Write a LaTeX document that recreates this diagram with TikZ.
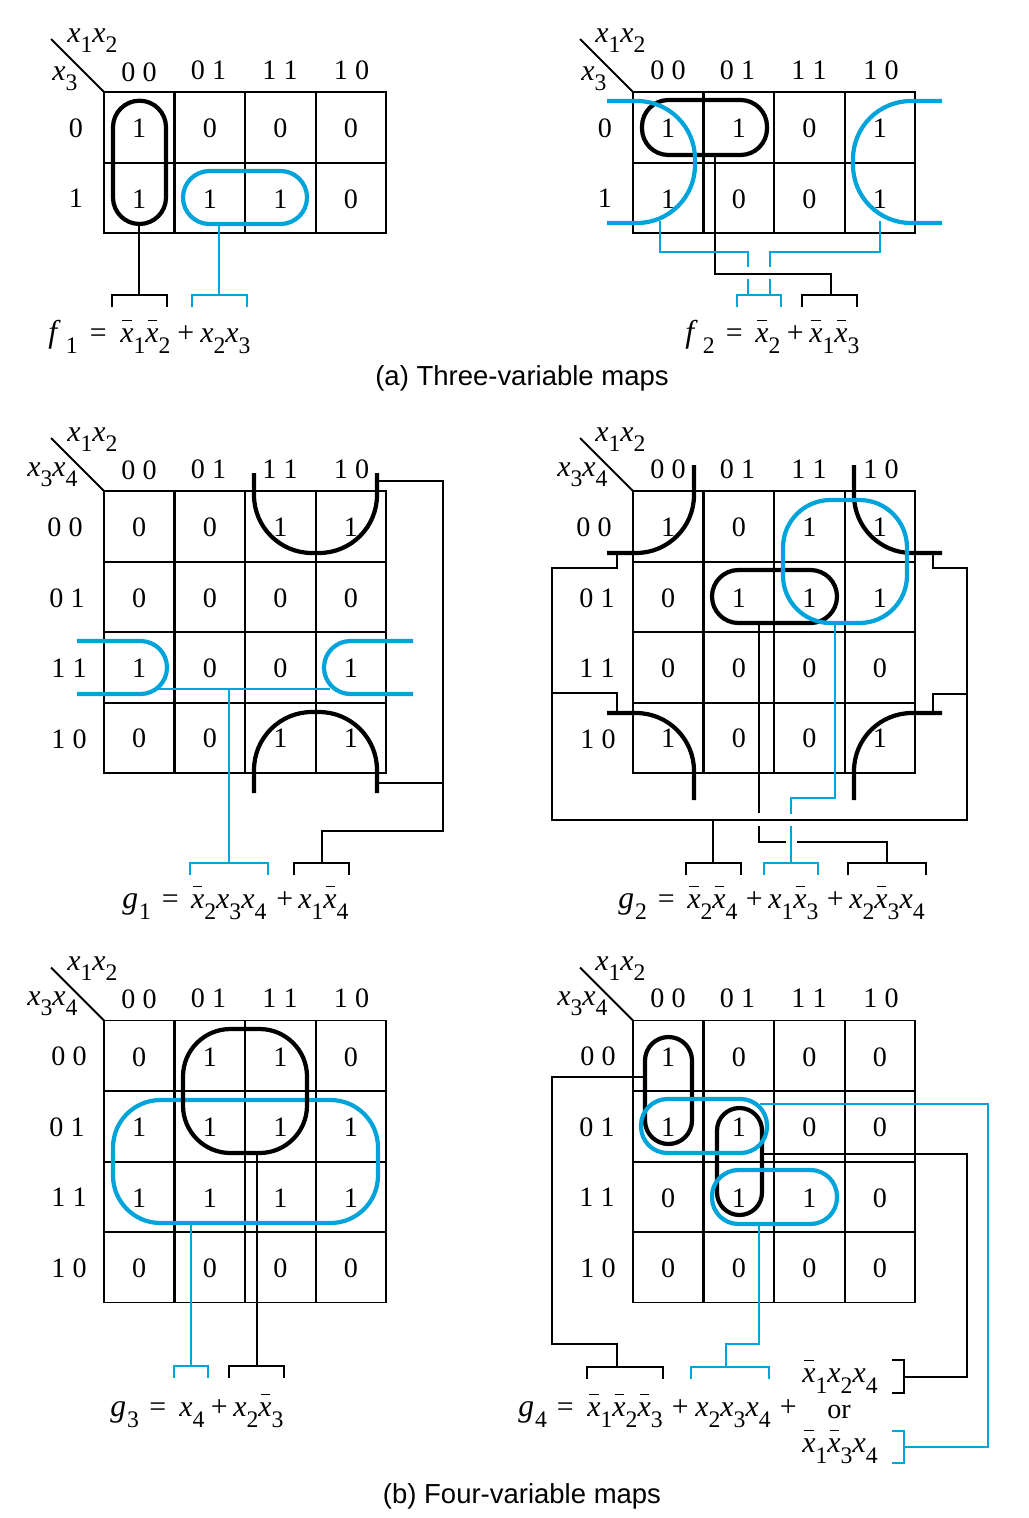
\documentclass[tikz,border=0pt]{standalone}
\usepackage{fontspec}
\setmainfont{Liberation Serif}
\newfontfamily\capfont{Liberation Sans}
\definecolor{kblue}{RGB}{0,163,218}
\newcommand\xit{{\fontsize{17}{18}\selectfont\itshape x}}
\newcommand\sbs[1]{\raisebox{-6pt}{\fontsize{13.5}{14}\selectfont #1}}
\newcommand\xs[1]{\xit\sbs{#1}}
\newcommand\xb[1]{\rlap{\kern1.2pt\raisebox{12pt}{\rule{5.2pt}{0.75pt}}}\xs{#1}}
\newcommand\fn[1]{{\fontsize{18}{18}\selectfont\itshape f}\kern5pt\sbs{#1}}
\newcommand\gn[1]{{\fontsize{18}{18}\selectfont\itshape g}\kern0.6pt\sbs{#1}}
\tikzset{
  gthin/.style={line width=1.1pt,black},
  gthick/.style={line width=1.4pt,black},
  loopk/.style={line width=2.4pt,black},
  loopb/.style={line width=2.4pt,kblue},
  wirek/.style={line width=1.05pt,black},
  wireb/.style={line width=1.05pt,kblue},
  dig/.style={inner sep=0pt,font=\fontsize{16}{18}\selectfont},
  eqt/.style={inner sep=0pt,anchor=base west,font=\fontsize{17}{18}\selectfont},
  captext/.style={inner sep=0pt,font=\capfont\fontsize{15.65}{18}\selectfont},
}
% name, x0, y0, number of rows, values
\newcommand\kgrid[5]{%
  \coordinate (#1-o) at (#2,#3);
  \draw[gthin] (#2,#3) rectangle ({#2+282.3},{#3+70.5*#4});
  \foreach \r in {1,...,#4}{
    \ifnum\r<#4 \draw[gthin] ({#2},{round(#3+70.5*\r)}) -- ({#2+282.3},{round(#3+70.5*\r)});\fi}
  \foreach \c in {1,2,3}{
    \draw[gthick] ({#2+70.6*\c},#3) -- ({#2+70.6*\c},{#3+70.5*#4});}
  \foreach \v [count=\i from 0] in {#5}{
    \pgfmathtruncatemacro\cc{mod(\i,4)}
    \pgfmathtruncatemacro\rr{int(\i/4)}
    \node[dig] (#1-\rr-\cc) at ({#2+35.2+70.6*\cc},{#3+36.5+70.4*\rr}) {\v};
  }
  \coordinate (#1-d) at ({#2-53},{#3-53});
  \draw[gthin] (#1-d) -- (#1-o);
}
% name, colour style, x1, x2, y
\newcommand\brk[5]{%
  \coordinate (#1-l) at (#3,#5);
  \coordinate (#1-r) at (#4,#5);
  \draw[#2] ($(#1-l)+(0,12)$) -- (#1-l) -- (#1-r) -- ($(#1-r)+(0,12)$);
}
\newcommand\C[3]{\coordinate (#1) at (#2,#3);}
\newcommand\T[4]{\node[eqt] (#1) at (#2,#3) {#4};}
\newcommand\D[4]{\node[dig] (#1) at (#2,#3) {#4};}
\usetikzlibrary{calc}
\begin{document}
\begin{tikzpicture}[x=0.02cm,y=-0.02cm]
\useasboundingbox (0,0) rectangle (1028,1518);
% ---------- grids
\kgrid{a}{104}{92}{2}{1,0,0,0,1,1,1,0}
\kgrid{c}{633}{92}{2}{1,1,0,1,1,0,0,1}
\kgrid{e}{104}{491}{4}{0,0,1,1,0,0,0,0,1,0,0,1,0,0,1,1}
\kgrid{g}{633}{491}{4}{1,0,1,1,0,1,1,1,0,0,0,0,1,0,0,1}
\kgrid{i}{104}{1020.5}{4}{0,1,1,0,1,1,1,1,1,1,1,1,0,0,0,0}
\kgrid{k}{633}{1020.5}{4}{1,0,0,0,1,1,0,0,0,1,1,0,0,0,0,0}
% ---------- axis labels
\T{a-x12}{67}{42}{\xs1\xs2}\T{a-x3}{52}{80}{\xs3}
\T{c-x12}{595}{42}{\xs1\xs2}\T{c-x3}{581}{80}{\xs3}
\T{e-x12}{67}{441}{\xs1\xs2}\T{e-x34}{27}{476}{\xs3\xs4}
\T{g-x12}{595}{441}{\xs1\xs2}\T{g-x34}{557}{476}{\xs3\xs4}
\T{i-x12}{67}{970}{\xs1\xs2}\T{i-x34}{27}{1005}{\xs3\xs4}
\T{k-x12}{595}{970}{\xs1\xs2}\T{k-x34}{557}{1005}{\xs3\xs4}
% column heads
\D{a-h0}{139}{72.5}{0 0}\D{a-h1}{208.5}{70.5}{0 1}\D{a-h2}{280}{70.5}{1 1}\D{a-h3}{351.5}{70.5}{1 0}
\D{c-h0}{668}{70.5}{0 0}\D{c-h1}{737.5}{70.5}{0 1}\D{c-h2}{809}{70.5}{1 1}\D{c-h3}{881}{70.5}{1 0}
\D{e-h0}{139}{470.5}{0 0}\D{e-h1}{208.5}{469}{0 1}\D{e-h2}{280}{469}{1 1}\D{e-h3}{351.5}{469}{1 0}
\D{g-h0}{668}{469}{0 0}\D{g-h1}{737.5}{469}{0 1}\D{g-h2}{809}{469}{1 1}\D{g-h3}{881}{469}{1 0}
\D{i-h0}{139}{999.5}{0 0}\D{i-h1}{208.5}{998}{0 1}\D{i-h2}{280}{998}{1 1}\D{i-h3}{351.5}{998}{1 0}
\D{k-h0}{668}{998}{0 0}\D{k-h1}{737.5}{998}{0 1}\D{k-h2}{809}{998}{1 1}\D{k-h3}{881}{998}{1 0}
% row heads
\D{a-v0}{76}{128}{0}\D{a-v1}{76}{198}{1}
\D{c-v0}{605}{128}{0}\D{c-v1}{605}{198}{1}
\D{e-v0}{65}{527.5}{0 0}\D{e-v1}{67}{598.5}{0 1}\D{e-v2}{69}{668.5}{1 1}\D{e-v3}{69}{739.5}{1 0}
\D{g-v0}{594}{527.5}{0 0}\D{g-v1}{597}{598.5}{0 1}\D{g-v2}{597}{668.5}{1 1}\D{g-v3}{598}{739.5}{1 0}
\D{i-v0}{69}{1056.5}{0 0}\D{i-v1}{67}{1127.5}{0 1}\D{i-v2}{69}{1197.5}{1 1}\D{i-v3}{69}{1268.5}{1 0}
\D{k-v0}{598}{1056.5}{0 0}\D{k-v1}{597}{1127.5}{0 1}\D{k-v2}{597}{1197.5}{1 1}\D{k-v3}{598}{1268.5}{1 0}
% ---------- equations
\T{f1}{48}{342.5}{\fn1}\T{f1e}{89.5}{342.5}{=}\T{f1t1}{120}{342.5}{\xb1\xb2}\T{f1p}{177}{342.5}{+}\T{f1t2}{200}{342.5}{\xs2\xs3}
\T{f2}{685}{342.5}{\fn2}\T{f2e}{725.5}{342.5}{=}\T{f2t1}{755}{342.5}{\xb2}\T{f2p}{786.5}{342.5}{+}\T{f2t2}{809}{342.5}{\xb1\xb3}
\T{g1}{122}{908.5}{\gn1}\T{g1e}{161.5}{908.5}{=}\T{g1t1}{190.7}{908.5}{\xb2\xs3\xs4}\T{g1p}{276}{908.5}{+}\T{g1t2}{298}{908.5}{\xs1\xb4}
\T{g2}{618}{908.5}{\gn2}\T{g2e}{657.5}{908.5}{=}\T{g2t1}{687}{908.5}{\xb2\xb4}\T{g2p}{745.5}{908.5}{+}\T{g2t2}{768}{908.5}{\xs1\xb3}\T{g2q}{826.5}{908.5}{+}\T{g2t3}{849}{908.5}{\xs2\xb3\xs4}
\T{g3}{110}{1416.5}{\gn3}\T{g3e}{149}{1416.5}{=}\T{g3t1}{179}{1416.5}{\xs4}\T{g3p}{210.5}{1416.5}{+}\T{g3t2}{233}{1416.5}{\xs2\xb3}
\T{g4}{518}{1416.5}{\gn4}\T{g4e}{556.5}{1416.5}{=}\T{g4t1}{587}{1416.5}{\xb1\xb2\xb3}\T{g4p}{671.5}{1416.5}{+}\T{g4t2}{695}{1416.5}{\xs2\xs3\xs4}\T{g4q}{779.5}{1416.5}{+}
\T{g4a}{802}{1382.5}{\xb1\xs2\xs4}\D{g4o}{839}{1412}{or}\T{g4b}{802}{1452.5}{\xb1\xb3\xs4}
\node[captext] (capa) at (522,378.5) {(a) Three-variable maps};
\node[captext] (capb) at (522,1496.5) {(b) Four-variable maps};
% ---------- map a: f1
\draw[loopk,rounded corners=0.53cm] (113,100.7) rectangle (166,224);
\draw[loopb,rounded corners=0.53cm] (183,171) rectangle (307,224);
\brk{fak}{wirek}{112}{167}{295}\brk{fab}{wireb}{192}{247}{295}
\C{fa1}{139}{225}\C{fa2}{139}{295}\C{fa3}{219}{226}\C{fa4}{219}{295}
\draw[wirek] (fa1) -- (fa2);
\draw[wireb] (fa3) -- (fa4);
% ---------- map c: f2
\draw[loopk,rounded corners=0.53cm] (642,100) rectangle (767,155);
\draw[loopb,rounded corners=1.16cm] (607,101) -- (695,101) -- (695,223) -- (607,223);
\draw[loopb,rounded corners=1.16cm] (942,101) -- (853,101) -- (853,223) -- (942,223);
\brk{fbk}{wirek}{802}{857}{295}\brk{fbb}{wireb}{737}{781}{295}
\C{fb1}{715}{155}\C{fb2}{715}{274}\C{fb3}{831}{274}\C{fb4}{831}{295}
\draw[wirek] (fb1) -- (fb2) -- (fb3) -- (fb4);
\C{fb5}{660}{221}\C{fb6}{660}{252}\C{fb7}{748}{252}\C{fb8}{748}{267}\C{fb9}{748}{279}\C{fb10}{748}{295}
\draw[wireb] (fb5) -- (fb6) -- (fb7) -- (fb8) (fb9) -- (fb10);
\C{fb11}{880}{221}\C{fb12}{880}{252}\C{fb13}{770}{252}\C{fb14}{770}{267}\C{fb15}{770}{279}\C{fb16}{770}{295}
\draw[wireb] (fb11) -- (fb12) -- (fb13) -- (fb14) (fb15) -- (fb16);
% ---------- map e: g1
\draw[loopk,rounded corners=1.16cm] (254,473) -- (254,553) -- (377,553) -- (377,473);
\draw[loopk,rounded corners=1.16cm] (254,793) -- (254,712) -- (377,712) -- (377,793);
\draw[loopb,rounded corners=0.53cm] (77,641) -- (167,641) -- (167,694) -- (77,694);
\draw[loopb,rounded corners=0.53cm] (413,641) -- (324,641) -- (324,694) -- (413,694);
\brk{gak}{wirek}{294}{349}{863}\brk{gab}{wireb}{190}{268}{863}
\C{ga1}{377}{481}\C{ga2}{443}{481}\C{ga3}{443}{831}\C{ga4}{322}{831}\C{ga5}{322}{863}\C{ga6}{377}{783}\C{ga7}{443}{783}
\draw[wirek] (ga1) -- (ga2) -- (ga3) -- (ga4) -- (ga5);
\draw[wirek] (ga6) -- (ga7);
\C{ga8}{158}{689}\C{ga9}{330}{689}\C{ga10}{229}{689}\C{ga11}{229}{863}
\draw[wireb] (ga8) -- (ga9);
\draw[wireb] (ga10) -- (ga11);
% ---------- map g: g2
\draw[loopk,rounded corners=1.16cm] (694,465) -- (694,553) -- (607,553);
\draw[loopk,rounded corners=1.16cm] (854,465) -- (854,553) -- (942,553);
\draw[loopk,rounded corners=1.16cm] (607,713) -- (694,713) -- (694,800);
\draw[loopk,rounded corners=1.16cm] (942,713) -- (854,713) -- (854,800);
\draw[loopk,rounded corners=0.53cm] (712,570) rectangle (837,623);
\draw[loopb,rounded corners=0.95cm] (783,500) rectangle (907,623);
\brk{gbk}{wirek}{686}{741}{863}\brk{gbb}{wireb}{764}{818}{863}\brk{gbc}{wirek}{848}{926}{863}
\C{gb1}{617}{553}\C{gb2}{617}{568}\C{gb3}{552}{568}\C{gb4}{552}{820}\C{gb5}{967}{820}\C{gb6}{967}{568}\C{gb7}{933}{568}\C{gb8}{933}{553}
\draw[wirek] (gb1) -- (gb2) -- (gb3) -- (gb4) -- (gb5) -- (gb6) -- (gb7) -- (gb8);
\C{gb9}{617}{713}\C{gb10}{617}{693}\C{gb11}{552}{693}
\draw[wirek] (gb9) -- (gb10) -- (gb11);
\C{gb12}{933}{713}\C{gb13}{933}{694}\C{gb14}{967}{694}
\draw[wirek] (gb12) -- (gb13) -- (gb14);
\C{gb15}{713}{820}\C{gb16}{713}{863}
\draw[wirek] (gb15) -- (gb16);
\C{gb17}{759}{623}\C{gb18}{759}{813}\C{gb19}{759}{826}\C{gb20}{759}{842}\C{gb21}{786}{842}\C{gb22}{797}{842}\C{gb23}{887}{842}\C{gb24}{887}{863}
\draw[wirek] (gb17) -- (gb18) (gb19) -- (gb20) -- (gb21) (gb22) -- (gb23) -- (gb24);
\C{gb25}{835}{623}\C{gb26}{835}{798}\C{gb27}{791}{798}\C{gb28}{791}{814}\C{gb29}{791}{826}\C{gb30}{791}{863}
\draw[wireb] (gb25) -- (gb26) -- (gb27) -- (gb28) (gb29) -- (gb30);
% ---------- map i: g3
\brk{hak}{wirek}{229}{284}{1366}\brk{hab}{wireb}{174}{208}{1366}
\C{ha1}{257}{1153}\C{ha2}{257}{1366}\C{ha3}{191}{1223}\C{ha4}{191}{1366}
\draw[wirek] (ha1) -- (ha2);
\draw[wireb] (ha3) -- (ha4);
\draw[loopb,rounded corners=0.95cm] (113,1100) rectangle (378,1223);
\draw[loopk,rounded corners=0.95cm] (183,1029) rectangle (307,1153);
% ---------- map k: g4
\draw[loopk,rounded corners=0.47cm] (645,1037) rectangle (692,1144);
\draw[loopk,rounded corners=0.45cm] (717,1108) rectangle (762,1215);
\draw[loopb,rounded corners=0.53cm] (641,1099) rectangle (767,1153);
\draw[loopb,rounded corners=0.53cm] (712,1170) rectangle (837,1224);
\brk{hbk}{wirek}{587}{663}{1367}\brk{hbb}{wireb}{691}{769}{1367}
\C{hb1}{645}{1077}\C{hb2}{552}{1077}\C{hb3}{552}{1344}\C{hb4}{617}{1344}\C{hb5}{617}{1367}
\draw[wirek] (hb1) -- (hb2) -- (hb3) -- (hb4) -- (hb5);
\C{hb6}{759}{1224}\C{hb7}{759}{1344}\C{hb8}{726}{1344}\C{hb9}{726}{1367}
\draw[wireb] (hb6) -- (hb7) -- (hb8) -- (hb9);
\C{hb10}{762}{1154}\C{hb11}{967}{1154}\C{hb12}{967}{1377}\C{hb13}{904}{1377}
\draw[wirek] (hb10) -- (hb11) -- (hb12) -- (hb13);
\C{hc1}{892}{1360}\C{hc2}{904}{1360}\C{hc3}{904}{1393}\C{hc4}{892}{1393}
\draw[line width=1.2pt,black] (hc1) -- (hc2) -- (hc3) -- (hc4);
\C{hb14}{760}{1104}\C{hb15}{988}{1104}\C{hb16}{988}{1447}\C{hb17}{904}{1447}
\draw[wireb] (hb14) -- (hb15) -- (hb16) -- (hb17);
\C{hd1}{892}{1431}\C{hd2}{904}{1431}\C{hd3}{904}{1463}\C{hd4}{892}{1463}
\draw[line width=1.2pt,kblue] (hd1) -- (hd2) -- (hd3) -- (hd4);
\end{tikzpicture}
\end{document}
